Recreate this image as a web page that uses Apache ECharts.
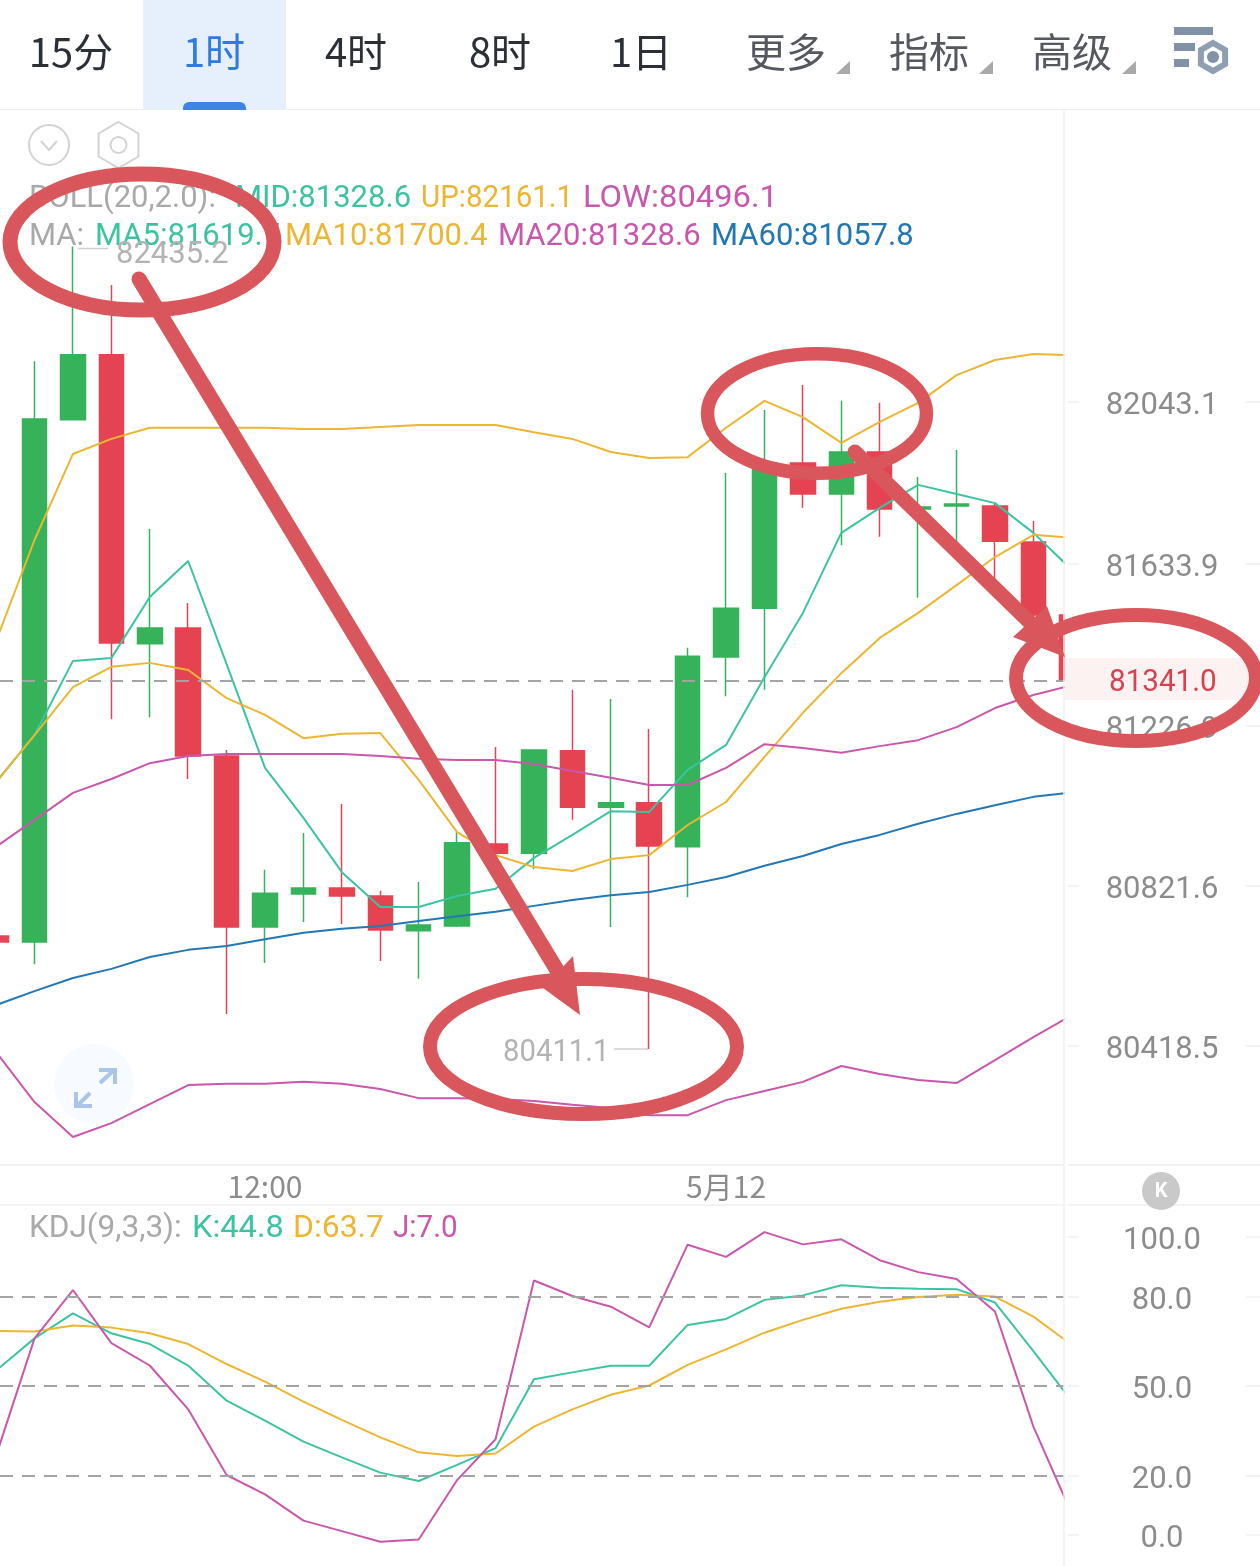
<!DOCTYPE html>
<html>
<head>
<meta charset="utf-8">
<style>html,body{margin:0;padding:0;background:#fff}#c{width:1260px;height:1566px}</style>
<script src="https://cdn.jsdelivr.net/npm/echarts@6/dist/echarts.min.js"></script>
</head>
<body>
<div id="c"></div>
<script>
// [open, close, low, high]
const candles = [
[80696,80681,80681,80696],[80681,82000,80625,82146],[81998,82162,81998,82435.2],[82162,81435,81243,82338],
[81433,81473,81248,81723],[81473,81150,81092,81536],[81150,80719,80499,81165],[80719,80804,80628,80863],
[80802,80817,80731,80956],[80817,80797,80726,81029],[80797,80711,80633,80810],[80709,80724,80588,80832],
[80721,80931,80719,80958],[80928,80905,80890,81173],[80905,81165,80865,81165],[81163,81021,80989,81317],
[81021,81032,80719,81294],[81032,80923,80411.1,81218],[80921,81402,80794,81423],[81400,81523,81301,81864],
[81523,81889,81317,82023],[81889,81811,81776,82086],[81811,81917,81682,82046],[81917,81773,81703,82041],
[81773,81778,81549,81854],[81781,81786,81682,81922],[81781,81692,81594,81786],[81690,81506,81478,81743],
[81506,81341,81341,81506]];
const ma5 = [81084,81203,81390,81397,81551,81642,81382,81120,80994,80857,80769,80769,80797,80815,80893,80951,81011,81009,81115,81178,81349,81511,81713,81776,81834,81811,81788,81713,81619.7];
const ma10 = [81084,81203,81324,81375,81385,81367,81296,81254,81195,81206,81208,81090,80958,80900,80870,80860,80890,80900,80976,81034,81148,81259,81359,81448,81511,81581,81652,81708,81700.4];
const mid = [80921,80989,81057,81092,81132,81150,81155,81155,81155,81155,81150,81143,81140,81140,81130,81112,81095,81077,81077,81120,81180,81170,81158,81175,81190,81223,81271,81304,81328.6];
const ma60 = [80522,80557,80590,80613,80643,80661,80671,80688,80704,80714,80721,80734,80746,80757,80772,80787,80799,80807,80825,80845,80873,80898,80928,80951,80979,81004,81026,81047,81057.8];
const upper = [81440,81695,81912,81950,81978,81978,81978,81978,81975,81975,81980,81985,81985,81985,81967,81950,81917,81902,81904,81978,82046,82005,81940,81993,82041,82111,82149,82164,82161.1];
const lower = [80403,80277,80189,80224,80272,80320,80323,80323,80328,80323,80310,80287,80287,80285,80280,80270,80262,80244,80244,80282,80305,80328,80368,80348,80333,80325,80383,80441,80496.1];
const kLine = [55.1,65.9,74.3,67.6,64.0,56.8,45.0,38.3,31.3,26.0,20.9,18.1,23.5,29.1,52.2,54.5,56.7,56.7,70.4,72.4,78.8,80.3,83.7,82.9,82.5,82.4,77.9,61.6,44.8];
const dLine = [68.4,68.2,70.2,69.5,67.6,64.0,57.3,51.4,44.7,38.6,32.7,27.7,26.5,27.3,36.3,42.1,47.0,50.1,57.0,62.2,67.8,72.1,75.8,78.2,79.8,80.5,79.9,73.2,63.7];
const jLine = [26.6,65.9,82.1,64.3,56.8,42.1,20.1,13.6,4.8,1.3,-2.3,-1.5,18.4,32.1,85.3,80.1,76.5,69.6,97.3,93.2,101.5,97.4,99.1,92.1,88.1,85.8,74.9,36.3,7.0];
const priceTicks = [82043.1,81633.9,81226.9,80821.6,80418.5];
const kdjTicks = [100,80,50,20,0];
const kdjGuides = [80,50,20];
const lastPrice = 81341.0;
const timeTickIndex = [7,19];
const timeTickLabels = ['12:00','5月12'];
const tabs = ['15分','1时','4时','8时','1日','更多','指标','高级'];

const CJK = '"Noto Sans CJK SC","Noto Sans",sans-serif';
const NUM = 'Roboto,"Liberation Sans",sans-serif';
const GREY = '#a9a9a9', AXISGREY = '#8c8c8c';
const TEAL = '#3cc3a2', YEL = '#ecb632', MAG = '#c957ac', BLUE = '#2277b5';
const RED = '#e64352', GRN = '#36b25a', INK = '#d9565c';
const XMIN = 0.1015, XMAX = 27.796;
const yMain = {min:80118.3, max:82779.7};
const yKdj = {min:-10.4, max:110.6};

const idx = a => a.map((v,i)=>[i,v]);
function line(name, data, color, x, y, w){
  return {name, type:'line', data:idx(data), xAxisIndex:x, yAxisIndex:y, showSymbol:false, symbol:'none',
    lineStyle:{color, width:w||2}, itemStyle:{color}, animation:false, silent:true, z:3, clip:true};
}
function guide(values){
  return {silent:true, symbol:'none', animation:false, label:{show:false},
    lineStyle:{color:'#a3a3a3', width:2, type:[13,9]}, data:values.map(v=>({yAxis:v}))};
}

const els = [];
const T = (text,x,y,fill,size,family,align,weight,z,sx)=>els.push({type:'text',x,y,z:z||1,silent:true,scaleX:sx||1,style:{text,fill,
  font:(weight||'normal')+' '+size+'px '+family,textAlign:align||'left',textVerticalAlign:'middle'}});
const L = (x1,y1,x2,y2,stroke,w,z,cap)=>els.push({type:'line',z:z||1,silent:true,shape:{x1,y1,x2,y2},style:{stroke,lineWidth:w,lineCap:cap||'butt'}});
const R = (x,y,width,height,fill,z,r)=>els.push({type:'rect',z:z||1,silent:true,shape:{x,y,width,height,r:r||0},style:{fill}});
const P = (points,fill,z)=>els.push({type:'polygon',z:z||1,silent:true,shape:{points},style:{fill}});
const PL = (points,stroke,w,z)=>els.push({type:'polyline',z:z||1,silent:true,shape:{points},style:{stroke,lineWidth:w,fill:'none',lineJoin:'miter'}});
const C = (cx,cy,r,fill,stroke,w,z)=>els.push({type:'circle',z:z||1,silent:true,shape:{cx,cy,r},style:{fill:fill||'none',stroke:stroke||'none',lineWidth:w||0}});
const E = (cx,cy,rx,ry,w)=>els.push({type:'ellipse',z:50,silent:true,shape:{cx,cy,rx,ry},style:{fill:'none',stroke:INK,lineWidth:w}});
const hex = (cx,cy,r)=>{const p=[];for(let i=0;i<6;i++){const a=Math.PI/3*i-Math.PI/2;p.push([cx+r*Math.cos(a),cy+r*Math.sin(a)]);}return p;};

// plot-edge masks: marks stop at the price-axis edge
R(1065,110,3,1456,'#ffffff',5);
R(1065,600,34,100,'#ffffff',5);

// structural lines
L(0,109.5,1260,109.5,'#eeeeee',1);
L(0,1165,1260,1165,'#ececec',1.5);
L(0,1205,1260,1205,'#eeeeee',1.5);
L(1064,110,1064,1566,'#f1f1f1',1.5,6);

// tab bar
R(143,0,143,109,'#e6f0fc');
R(183,102,63,8,'#3f84e5',1,[6,6,0,0]);
const tabX = [71,214,356,500,641,786,929,1072];
tabs.forEach((t,i)=>T(t,tabX[i],52,i===1?'#2f7be0':(i<5?'#2b2f36':'#55595f'),40,CJK,'center'));
[[836,850],[979,993],[1122,1136]].forEach(a=>P([[a[0],74],[a[1],74],[a[1],61]],'#a9a9a9'));
R(1174,27,39,8,'#8192a6'); R(1174,43,21,8,'#8192a6'); R(1174,59,15,8,'#8192a6');
els.push({type:'polygon',z:1,silent:true,shape:{points:hex(1213,57,14)},style:{fill:'#fff',stroke:'#8f9eb1',lineWidth:6}});
C(1213,57,6,'#8192a6');

// top-left icons
C(49,145,20,'#fff','#d3d3d3',2);
PL([[41,141],[49,150],[57,141]],'#d3d3d3',2);
els.push({type:'polygon',z:1,silent:true,shape:{points:hex(118.5,145,23)},style:{fill:'#fff',stroke:'#d3d3d3',lineWidth:2}});
C(118.5,145,8,'#fff','#d3d3d3',2);

// indicator legends
const LS = 31;
T('BOLL(20,2.0):',29,199,GREY,LS,NUM,'left');
T('MID:81328.6',235,199,TEAL,LS,NUM,'left');
T('UP:82161.1',421,199,YEL,LS,NUM,'left','normal',1,0.952);
T('LOW:80496.1',583,199,MAG,LS,NUM,'left','normal',1,1.055);
T('MA:',29,237,GREY,LS,NUM,'left');
T('MA5:81619.7',95,237,TEAL,LS,NUM,'left');
T('MA10:81700.4',285,237,YEL,LS,NUM,'left');
T('MA20:81328.6',498,237,MAG,LS,NUM,'left');
T('MA60:81057.8',711,237,BLUE,LS,NUM,'left');
T('KDJ(9,3,3):',29,1229,GREY,LS,NUM,'left','normal',1,1.016);
T('K:44.8',192,1229,TEAL,LS,NUM,'left','normal',1,1.05);
T('D:63.7',293,1229,YEL,LS,NUM,'left','normal',1,1.03);
T('J:7.0',393,1229,MAG,LS,NUM,'left','normal',1,0.955);

// high / low callouts
T('82435.2',116,255,'#b3b3b3',LS,NUM,'left');
L(78,248.5,108,248.5,'#cfcfcf',1.5);
T('80411.1',503,1053,'#b3b3b3',LS,NUM,'left','normal',1,0.945);
L(614,1049,648,1049,'#cfcfcf',1.5);

// last price tag
R(1065,658,190,42,'#fdf2f2',6);
T('81341.0',1109,683,'#d8414f',LS,NUM,'left','normal',7,0.955);

// expand button
C(94,1084,40,'#f7fafe');
PL([[100,1083],[114,1070]],'#abc5ea',4,1);
PL([[99,1070],[115,1070],[115,1084]],'#abc5ea',4,1);
PL([[90,1093],[77,1106]],'#abc5ea',4,1);
PL([[76,1092],[76,1106],[92,1106]],'#abc5ea',4,1);

// K button
C(1161,1191,19,'#c9c9c9');
T('K',1161,1192,'#fff',20,NUM,'center','bold');

// hand-drawn annotations
E(142,242,132,68,15);
E(817,413.5,109.5,59.8,13.5);
E(1136,678,120,63,14);
E(583.5,1046.5,153.5,67.5,14);
L(139,279,566,985,INK,15,51,'round');
P([[580,1015],[573,956],[543,988]],INK,51);
L(855,452,1048,640,INK,15,51,'round');
P([[1065,657],[1047,606],[1013,637]],INK,51);

const yTickCommon = {lineStyle:{color:'#efefef',width:1.5}};
const valueLabel = {show:true,align:'center',margin:98,formatter:v=>'{a|'+v.toFixed(1)+'}',
  rich:{a:{color:AXISGREY,fontSize:31,fontFamily:NUM,padding:[9,0,0,0]}}};
const option = {
  animation:false,
  backgroundColor:'#ffffff',
  grid:[
    {left:0,top:110,width:1064,height:1055,containLabel:false},
    {left:0,top:1205,width:1064,height:361,containLabel:false}
  ],
  xAxis:[
    {type:'value',gridIndex:0,min:XMIN,max:XMAX,splitLine:{show:false},axisLine:{show:false},axisTick:{show:false},
     axisLabel:{show:true,customValues:timeTickIndex,margin:7,color:AXISGREY,fontSize:30,fontFamily:CJK,
       hideOverlap:false,formatter:v=>timeTickLabels[timeTickIndex.indexOf(Math.round(v))]||''}},
    {type:'value',gridIndex:1,min:XMIN,max:XMAX,splitLine:{show:false},axisLine:{show:false},axisTick:{show:false},axisLabel:{show:false}}
  ],
  yAxis:[
    {type:'value',gridIndex:0,position:'right',min:yMain.min,max:yMain.max,splitLine:{show:false},axisLine:{show:false},
     axisTick:{show:true,customValues:priceTicks,length:15,...yTickCommon},
     axisLabel:{...valueLabel,customValues:priceTicks}},
    {type:'value',gridIndex:0,position:'right',offset:196,min:yMain.min,max:yMain.max,splitLine:{show:false},axisLine:{show:false},
     axisTick:{show:true,inside:true,customValues:priceTicks,length:14,...yTickCommon},axisLabel:{show:false}},
    {type:'value',gridIndex:1,position:'right',min:yKdj.min,max:yKdj.max,splitLine:{show:false},axisLine:{show:false},
     axisTick:{show:true,customValues:kdjTicks,length:15,...yTickCommon},
     axisLabel:{...valueLabel,customValues:kdjTicks}},
    {type:'value',gridIndex:1,position:'right',offset:196,min:yKdj.min,max:yKdj.max,splitLine:{show:false},axisLine:{show:false},
     axisTick:{show:true,inside:true,customValues:kdjTicks,length:14,...yTickCommon},axisLabel:{show:false}}
  ],
  series:[
    {name:'K',type:'candlestick',xAxisIndex:0,yAxisIndex:0,data:candles.map((c,i)=>[i].concat(c)),barWidth:25,clip:true,silent:true,z:2,
     itemStyle:{color:GRN,color0:RED,borderColor:GRN,borderColor0:RED,borderWidth:1.5},
     markLine:guide([lastPrice])},
    line('MA5',ma5,TEAL,0,0),
    line('MA10',ma10,YEL,0,0),
    line('MID',mid,MAG,0,0),
    line('MA60',ma60,BLUE,0,0),
    line('UP',upper,YEL,0,0),
    line('LOW',lower,MAG,0,0),
    Object.assign(line('K',kLine,TEAL,1,2),{markLine:guide(kdjGuides)}),
    line('D',dLine,YEL,1,2),
    line('J',jLine,MAG,1,2)
  ],
  graphic:{elements:els}
};
const chart = echarts.init(document.getElementById('c'),null,{renderer:'canvas',width:1260,height:1566});
chart.setOption(option);
</script>
</body>
</html>
